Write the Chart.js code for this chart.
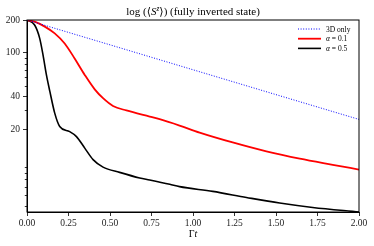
<!DOCTYPE html>
<html>
<head>
<meta charset="utf-8">
<script src="https://cdn.jsdelivr.net/npm/chart.js@4.4.1/dist/chart.umd.min.js"></script>
<style>
  html, body { margin: 0; padding: 0; background: #fff; }
  #wrap { width: 374px; height: 246px; position: relative; }
</style>
</head>
<body>
<div id="wrap"><canvas id="chart"></canvas></div>
<script>
// values
const blueT = [0, 0.5, 1.0, 1.5, 2.0];
const blueS = [200, 118.6, 70.2, 41.6, 24.7];

const redT = [0, 0.046, 0.107, 0.167, 0.227, 0.287, 0.348, 0.408, 0.458, 0.518, 0.599, 0.739, 0.799, 0.919, 1.04, 1.239, 1.442, 1.643, 1.842, 2.0];
const redS = [200, 193, 174, 151, 122, 89, 63, 46.5, 38.6, 32.8, 29.8, 26.2, 24.8, 21.7, 18.7, 15.2, 12.6, 10.8, 9.5, 8.6];

const blackT = [0, 0.046, 0.0765, 0.0964, 0.117, 0.137, 0.167, 0.197, 0.257, 0.298, 0.348, 0.398, 0.458, 0.558, 0.679, 0.739, 0.86, 0.919, 1.119, 1.322, 1.522, 1.721, 2.0];
const blackS = [200, 180, 136, 96, 63, 45, 28.2, 21.3, 19.1, 17.2, 13.5, 10.6, 9.05, 8.1, 7.2, 6.9, 6.3, 6.0, 5.43, 4.78, 4.25, 3.87, 3.52];

const yMajor = [20, 40, 100, 200];
const yMinor = [4, 5, 6, 7, 8, 9, 30, 50, 60, 70, 80, 90];
const xTicks = [0, 0.25, 0.5, 0.75, 1.0, 1.25, 1.5, 1.75, 2.0];

const serif = '"Liberation Serif", "DejaVu Serif", serif';

const toPts = (ts, vs) => ts.map((t, i) => ({ x: t, y: vs[i] }));

const legendItems = [
    { label: '3D only', color: '#0000ff', width: 1, dash: [1, 1.6] },
    { label: 'α = 0.1', color: '#ff0000', width: 1.8, dash: [] },
    { label: 'α = 0.5', color: '#000000', width: 1.6, dash: [] },
];

// frame, minor ticks, title, x label, legend
const decor = {
    id: 'decor',
    afterDraw(chart) {
        const ctx = chart.ctx;
        const a = chart.chartArea;
        const ys = chart.scales.y;
        ctx.save();

        ctx.strokeStyle = '#000';
        ctx.lineWidth = 1;
        ctx.strokeRect(a.left, a.top, a.right - a.left, a.bottom - a.top);

        // minor y ticks
        ctx.beginPath();
        yMinor.forEach(v => {
            const py = Math.round(ys.getPixelForValue(v)) + 0.5;
            ctx.moveTo(a.left, py);
            ctx.lineTo(a.left - 2.2, py);
        });
        ctx.lineWidth = 0.8;
        ctx.stroke();

        // title
        const cx = (a.left + a.right) / 2;
        const parts = [
            { t: 'log (⟨', f: '11px ' + serif, dy: 0 },
            { t: 'S', f: 'italic 11px ' + serif, dy: 0 },
            { t: 'z', f: 'italic 7.5px ' + serif, dy: -4 },
            { t: '⟩) (fully inverted state)', f: '11px ' + serif, dy: 0 },
        ];
        let total = 0;
        parts.forEach(p => { ctx.font = p.f; p.w = ctx.measureText(p.t).width; total += p.w; });
        let x = cx - total / 2;
        ctx.fillStyle = '#000';
        ctx.textBaseline = 'alphabetic';
        ctx.textAlign = 'left';
        parts.forEach(p => { ctx.font = p.f; ctx.fillText(p.t, x, 15 + p.dy); x += p.w; });

        // x axis label
        ctx.font = '10px ' + serif;
        const gw = ctx.measureText('Γ').width;
        ctx.font = 'italic 10px ' + serif;
        const tw = ctx.measureText('t').width;
        let lx = cx - (gw + tw) / 2;
        ctx.font = '10px ' + serif;
        ctx.fillText('Γ', lx, 237);
        ctx.font = 'italic 10px ' + serif;
        ctx.fillText('t', lx + gw, 237);

        // legend
        legendItems.forEach((it, i) => {
            const ly = 29 + i * 9.7;
            ctx.beginPath();
            ctx.setLineDash(it.dash);
            ctx.strokeStyle = it.color;
            ctx.lineWidth = it.width;
            ctx.moveTo(298, ly);
            ctx.lineTo(321, ly);
            ctx.stroke();
            ctx.setLineDash([]);
            ctx.fillStyle = '#000';
            if (it.label.startsWith('α')) {
                ctx.font = 'italic 7.5px ' + serif;
                ctx.fillText('α', 326, ly + 2.6);
                const aw = ctx.measureText('α').width;
                ctx.font = '7.5px ' + serif;
                ctx.fillText(it.label.slice(1), 326 + aw, ly + 2.6);
            } else {
                ctx.font = '7.5px ' + serif;
                ctx.fillText(it.label, 326, ly + 2.6);
            }
        });
        ctx.restore();
    }
};

new Chart(document.getElementById('chart'), {
    type: 'line',
    data: {
        datasets: [
            {
                label: '3D only',
                data: toPts(blueT, blueS),
                borderColor: '#0000ff',
                borderWidth: 1,
                borderDash: [1, 1.6],
                pointRadius: 0,
                fill: false,
            },
            {
                label: 'α = 0.1',
                data: toPts(redT, redS),
                borderColor: '#ff0000',
                borderWidth: 1.8,
                pointRadius: 0,
                cubicInterpolationMode: 'monotone',
                fill: false,
            },
            {
                label: 'α = 0.5',
                data: toPts(blackT, blackS),
                borderColor: '#000000',
                borderWidth: 1.6,
                pointRadius: 0,
                cubicInterpolationMode: 'monotone',
                fill: false,
            },
        ]
    },
    options: {
        responsive: true,
        maintainAspectRatio: false,
        animation: false,
        events: [],
        layout: { padding: { top: 20, right: 15, left: 0, bottom: 0 } },
        plugins: {
            legend: { display: false },
            tooltip: { enabled: false },
            title: { display: false },
        },
        scales: {
            x: {
                type: 'linear',
                min: 0,
                max: 2,
                afterBuildTicks: s => { s.ticks = xTicks.map(v => ({ value: v })); },
                afterFit: s => { s.height = 34; },
                ticks: {
                    autoSkip: false,
                    maxRotation: 0,
                    padding: 2,
                    color: '#222',
                    font: { family: serif, size: 9.5 },
                    callback: v => Number(v).toFixed(2),
                },
                grid: { drawOnChartArea: false, tickLength: 4, color: '#000', lineWidth: 0.8 },
                border: { display: true, color: '#000', width: 1 },
            },
            y: {
                type: 'logarithmic',
                min: 3.52,
                max: 200,
                afterBuildTicks: s => {
                    s.ticks = yMinor.concat(yMajor).sort((a, b) => a - b).map(v => ({ value: v }));
                },
                afterFit: s => { s.width = 27; },
                ticks: {
                    autoSkip: false,
                    padding: 3,
                    color: '#222',
                    font: { family: serif, size: 9.5 },
                    callback: v => (yMajor.includes(v) ? String(v) : ''),
                },
                grid: {
                    drawOnChartArea: false,
                    tickLength: 4,
                    lineWidth: 0.8,
                    color: c => (c.tick && yMajor.includes(c.tick.value) ? '#000' : 'rgba(0,0,0,0)'),
                },
                border: { display: true, color: '#000', width: 1 },
            }
        }
    },
    plugins: [decor]
});
</script>
</body>
</html>
